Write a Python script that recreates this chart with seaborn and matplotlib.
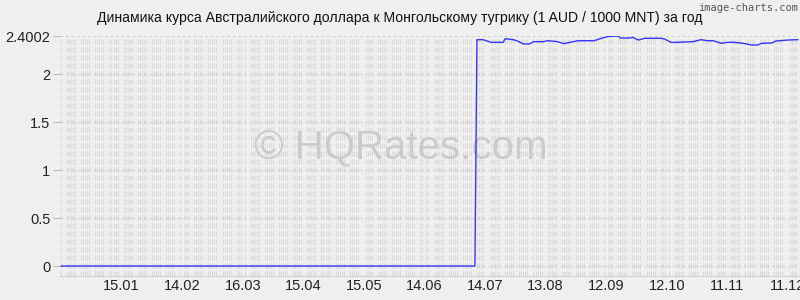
import matplotlib
matplotlib.use("Agg")
import matplotlib.pyplot as plt
import matplotlib.dates as mdates
import seaborn as sns
import pandas as pd
import numpy as np

# ---- data ----
start_date = "2022-12-16"
day_offsets = [0, 205, 206, 209, 213, 219, 220, 224, 226, 229, 232, 234, 239, 241, 246,
               249, 252, 256, 264, 267, 271, 276, 277, 282, 283, 286, 289, 297, 299, 302,
               305, 313, 317, 320, 323, 327, 330, 333, 337, 342, 345, 347, 352, 354, 360, 365]
rates = [0.0, 0.0, 2.362, 2.362, 2.334, 2.334, 2.372, 2.362, 2.348, 2.317, 2.317, 2.341,
         2.341, 2.351, 2.341, 2.320, 2.334, 2.351, 2.351, 2.372, 2.395, 2.4002, 2.379,
         2.379, 2.387, 2.358, 2.376, 2.376, 2.369, 2.334, 2.334, 2.341, 2.362, 2.351,
         2.351, 2.324, 2.334, 2.334, 2.327, 2.306, 2.306, 2.324, 2.327, 2.348, 2.358, 2.362]
tick_labels = ["15.01", "14.02", "16.03", "15.04", "15.05", "14.06",
               "14.07", "13.08", "12.09", "12.10", "11.11", "11.12"]
ytick_values = [0, 0.5, 1, 1.5, 2, 2.4002]
ytick_labels = ["0", "0.5", "1", "1.5", "2", "2.4002"]
title = "Динамика курса Австралийского доллара к Монгольскому тугрику (1 AUD / 1000 MNT) за год"

# ---- build ----
t0 = pd.Timestamp(start_date)
df = pd.DataFrame({"date": [t0 + pd.Timedelta(days=d) for d in day_offsets],
                   "rate": rates})
tick_dates = [pd.Timestamp("2023-01-15") + pd.Timedelta(days=30 * k) for k in range(len(tick_labels))]

sns.set_theme(style="white")
plt.rcParams["font.family"] = ["Liberation Sans", "DejaVu Sans"]
plt.rcParams["lines.scale_dashes"] = False

bg = "#efefef"
fig = plt.figure(figsize=(8, 3), dpi=100, facecolor=bg)
ax = fig.add_axes([60 / 800, 1 - 276 / 300, 739 / 800, 240 / 300])
ax.set_facecolor(bg)

sns.lineplot(data=df, x="date", y="rate", ax=ax, color="#3535ff", linewidth=1.0,
             estimator=None, zorder=5)

ax.set_xlim(t0 - pd.Timedelta(hours=12), t0 + pd.Timedelta(days=365, hours=12))
ax.set_ylim(-0.104, 2.4002)

# grid: daily (weekday) dashed vertical lines
ax.xaxis.set_minor_locator(mdates.WeekdayLocator(byweekday=(0, 1, 2, 3, 4)))
ax.grid(which="minor", axis="x", color="#d9d9d9", linewidth=0.75,
        linestyle=(0, (3.6, 2.16)), zorder=0)
ax.set_xticks(tick_dates)
ax.set_xticklabels(tick_labels)
ax.grid(which="major", axis="x", visible=False)
ax.set_yticks(ytick_values)
ax.set_yticklabels(ytick_labels)
ax.grid(which="major", axis="y", color="#d0d0d0", linewidth=0.75,
        linestyle=(0, (2, 2)), zorder=0)

for s in ["top", "right", "left"]:
    ax.spines[s].set_visible(False)
ax.spines["bottom"].set_color("#cccccc")
ax.spines["bottom"].set_linestyle((0, (1.0, 1.0)))
ax.spines["bottom"].set_linewidth(0.75)

ax.tick_params(axis="y", which="major", length=5, width=0.75, color="#bbbbbb",
               labelsize=10.5, labelcolor="#222222", pad=2, left=True)
ax.tick_params(axis="x", which="both", length=0, labelsize=10.5, labelcolor="#222222", pad=2)
ax.set_xlabel("")
ax.set_ylabel("")

fig.text(0.5, 1 - 18 / 300, title, ha="center", va="center", fontsize=10.1, color="#111111")
fig.text(0.997, 1 - 8 / 300, "image-charts.com", ha="right", va="center",
         fontsize=7.5, color="#555555", family=["DejaVu Sans Mono", "DejaVu Sans"])
ax.text(0.461, 0.533, "© HQRates.com", transform=ax.transAxes, ha="center", va="center",
        fontsize=29, color="#cbcbcb", zorder=1)

fig.savefig("out.png", dpi=100, facecolor=bg)
